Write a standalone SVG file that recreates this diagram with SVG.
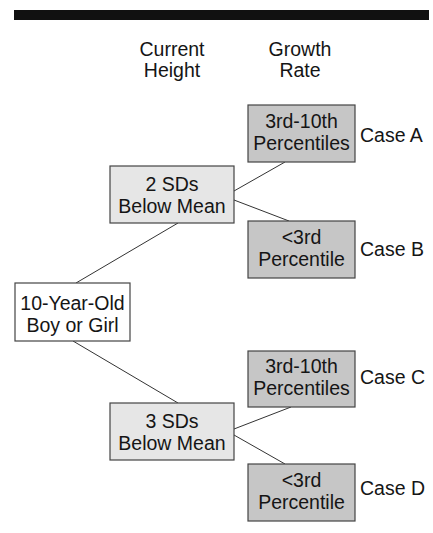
<svg xmlns="http://www.w3.org/2000/svg" width="433" height="533" viewBox="0 0 433 533">
<style>
text{font-family:"Liberation Sans",Arial,sans-serif;font-size:19.5px;fill:#151515;text-anchor:middle}
.case{text-anchor:start}
.box{stroke:#444;stroke-width:1.2}
.light{fill:#e6e6e6}
.dark{fill:#c6c6c6}
.white{fill:#fff}
.conn line{stroke:#333;stroke-width:1}
</style>
<rect x="14" y="10" width="415" height="10" fill="#111"/>
<g id="headers">
<text x="172" y="56">Current</text>
<text x="172" y="77">Height</text>
<text x="300" y="56">Growth</text>
<text x="300" y="77">Rate</text>
</g>
<g class="conn" id="connectors">
<line x1="234" y1="191" x2="285" y2="162"/>
<line x1="234" y1="200" x2="289" y2="221"/>
<line x1="178" y1="223" x2="76" y2="283"/>
<line x1="73" y1="341" x2="178" y2="403"/>
<line x1="234" y1="429" x2="291" y2="407"/>
<line x1="234" y1="435" x2="285" y2="464"/>
</g>
<g id="root">
<rect class="box white" x="15" y="283" width="115" height="58"/>
<text x="72.5" y="310">10-Year-Old</text>
<text x="72.5" y="332">Boy or Girl</text>
</g>
<g id="sd2">
<rect class="box light" x="110" y="166" width="124" height="57"/>
<text x="172" y="191">2 SDs</text>
<text x="172" y="213">Below Mean</text>
</g>
<g id="sd3">
<rect class="box light" x="110" y="403" width="124" height="57"/>
<text x="172" y="428">3 SDs</text>
<text x="172" y="450">Below Mean</text>
</g>
<g id="caseA">
<rect class="box dark" x="248" y="105" width="107" height="57"/>
<text x="301.5" y="128">3rd-10th</text>
<text x="301.5" y="150">Percentiles</text>
<text class="case" x="360" y="142">Case A</text>
</g>
<g id="caseB">
<rect class="box dark" x="248" y="221" width="107" height="57"/>
<text x="301.5" y="244">&lt;3rd</text>
<text x="301.5" y="266">Percentile</text>
<text class="case" x="360" y="256">Case B</text>
</g>
<g id="caseC">
<rect class="box dark" x="248" y="351" width="107" height="56"/>
<text x="301.5" y="373">3rd-10th</text>
<text x="301.5" y="395">Percentiles</text>
<text class="case" x="360" y="384">Case C</text>
</g>
<g id="caseD">
<rect class="box dark" x="248" y="464" width="107" height="57"/>
<text x="301.5" y="487">&lt;3rd</text>
<text x="301.5" y="509">Percentile</text>
<text class="case" x="360" y="495">Case D</text>
</g>
</svg>
